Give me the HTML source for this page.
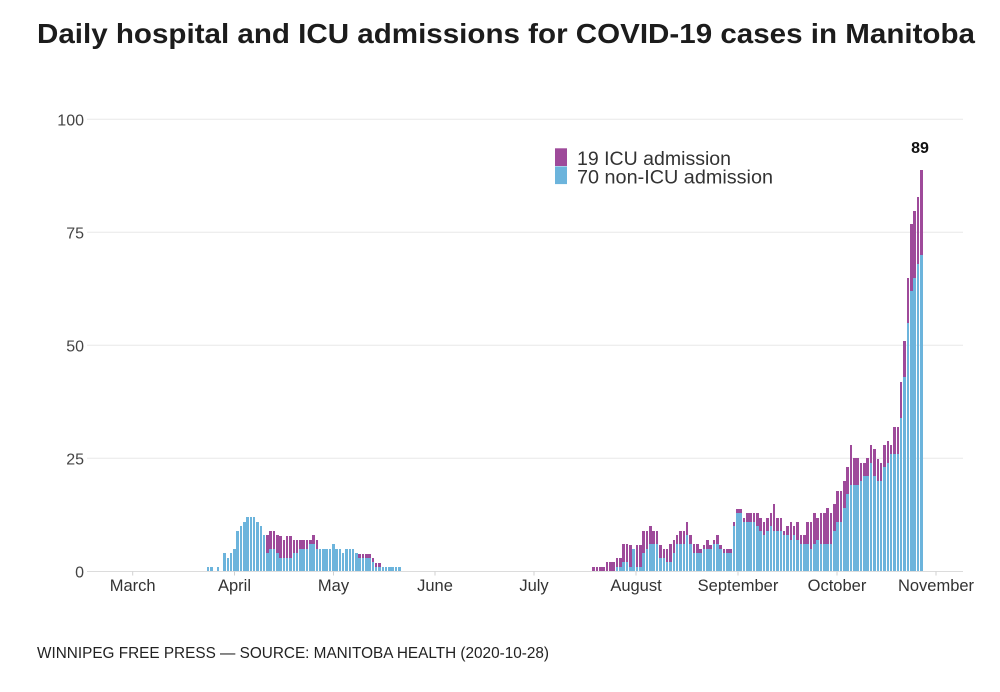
<!DOCTYPE html>
<html>
<head>
<meta charset="utf-8">
<style>
  html, body { margin:0; padding:0; background:#fff; }
  #wrap { position:relative; width:1000px; height:692px; overflow:hidden; background:#fff; }
  svg { position:absolute; left:0; top:0; }
  .grp { position:absolute; top:0; height:571.3px; display:flex; align-items:flex-end; }
  .grp i { --b:0; --p:0; display:block; flex:none; background:#6cb4dc;
           height:calc(var(--b) * 4.52px);
           border-top:calc(var(--p) * 4.52px) solid #9e4a9a; }
  #ga { left:206.8px; }
  #ga i { width:2.5px; margin-right:0.8px; }
  #gb { left:592.3px; }
  #gb i { width:2.55px; margin-right:0.8px; }
</style>
</head>
<body>
<div id="wrap">
<svg width="1000" height="692" viewBox="0 0 1000 692" xmlns="http://www.w3.org/2000/svg">
  <text x="37" y="43" font-family="Liberation Sans, sans-serif" font-size="28" font-weight="bold" fill="#1c1c1c" textLength="938" lengthAdjust="spacingAndGlyphs">Daily hospital and ICU admissions for COVID-19 cases in Manitoba</text>

  <g stroke="#e8e8e8" stroke-width="1">
    <line x1="87" y1="119.3" x2="963" y2="119.3"/>
    <line x1="87" y1="232.3" x2="963" y2="232.3"/>
    <line x1="87" y1="345.3" x2="963" y2="345.3"/>
    <line x1="87" y1="458.3" x2="963" y2="458.3"/>
  </g>
  <line x1="87" y1="571.5" x2="963" y2="571.5" stroke="#dcdcdc" stroke-width="1"/>

  <g font-family="Liberation Sans, sans-serif" font-size="16" fill="#444" text-anchor="end">
    <text x="84" y="125.3">100</text>
    <text x="84" y="238.3">75</text>
    <text x="84" y="351.3">50</text>
    <text x="84" y="464.3">25</text>
    <text x="84" y="577.3">0</text>
  </g>

  <g stroke="#d0d0d0" stroke-width="1">
    <line x1="132.7" y1="571.5" x2="132.7" y2="575.5"/>
    <line x1="234.5" y1="571.5" x2="234.5" y2="575.5"/>
    <line x1="333.5" y1="571.5" x2="333.5" y2="575.5"/>
    <line x1="435" y1="571.5" x2="435" y2="575.5"/>
    <line x1="534" y1="571.5" x2="534" y2="575.5"/>
    <line x1="636" y1="571.5" x2="636" y2="575.5"/>
    <line x1="738" y1="571.5" x2="738" y2="575.5"/>
    <line x1="837" y1="571.5" x2="837" y2="575.5"/>
    <line x1="936" y1="571.5" x2="936" y2="575.5"/>
  </g>
  <g font-family="Liberation Sans, sans-serif" font-size="16.5" fill="#333" text-anchor="middle">
    <text x="132.7" y="591">March</text>
    <text x="234.5" y="591">April</text>
    <text x="333.5" y="591">May</text>
    <text x="435" y="591">June</text>
    <text x="534" y="591">July</text>
    <text x="636" y="591">August</text>
    <text x="738" y="591">September</text>
    <text x="837" y="591">October</text>
    <text x="936" y="591">November</text>
  </g>

  <rect x="555" y="148.3" width="12" height="17.7" fill="#9e4a9a"/>
  <rect x="555" y="166.4" width="12" height="17.7" fill="#6cb4dc"/>
  <g font-family="Liberation Sans, sans-serif" font-size="19" fill="#333">
    <text x="577" y="165" textLength="154" lengthAdjust="spacingAndGlyphs">19 ICU admission</text>
    <text x="577" y="183.5" textLength="196" lengthAdjust="spacingAndGlyphs">70 non-ICU admission</text>
  </g>

  <text x="920" y="153" font-family="Liberation Sans, sans-serif" font-size="16" font-weight="bold" fill="#111" text-anchor="middle">89</text>

  <text x="37" y="658" font-family="Liberation Sans, sans-serif" font-size="16" fill="#222" textLength="512" lengthAdjust="spacingAndGlyphs">WINNIPEG FREE PRESS — SOURCE: MANITOBA HEALTH (2020-10-28)</text>
</svg>

<div class="grp" id="ga">
<i style="--b:1"></i><i style="--b:1"></i><i></i><i style="--b:1"></i><i></i>
<i style="--b:4"></i><i style="--b:3"></i><i style="--b:4"></i><i style="--b:5"></i><i style="--b:9"></i>
<i style="--b:10"></i><i style="--b:11"></i><i style="--b:12"></i><i style="--b:12"></i><i style="--b:12"></i>
<i style="--b:11"></i><i style="--b:10"></i><i style="--b:8"></i><i style="--b:4;--p:4"></i><i style="--b:5;--p:4"></i>
<i style="--b:5;--p:4"></i><i style="--b:4;--p:4"></i><i style="--b:3;--p:5"></i><i style="--b:3;--p:4"></i><i style="--b:3;--p:5"></i>
<i style="--b:3;--p:5"></i><i style="--b:4;--p:3"></i><i style="--b:4;--p:3"></i><i style="--b:5;--p:2"></i><i style="--b:5;--p:2"></i>
<i style="--b:5;--p:2"></i><i style="--b:6;--p:1"></i><i style="--b:6;--p:2"></i><i style="--b:5;--p:2"></i><i style="--b:5"></i>
<i style="--b:5"></i><i style="--b:5"></i><i style="--b:5"></i><i style="--b:6"></i><i style="--b:5"></i>
<i style="--b:5"></i><i style="--b:4"></i><i style="--b:5"></i><i style="--b:5"></i><i style="--b:5"></i>
<i style="--b:4"></i><i style="--b:3;--p:1"></i><i style="--b:3;--p:1"></i><i style="--b:3;--p:1"></i><i style="--b:3;--p:1"></i>
<i style="--b:2;--p:1"></i><i style="--b:1;--p:1"></i><i style="--b:1;--p:1"></i><i style="--b:1"></i><i style="--b:1"></i>
<i style="--b:1"></i><i style="--b:1"></i><i style="--b:1"></i><i style="--b:1"></i>
</div>

<div class="grp" id="gb">
<i style="--p:1"></i><i style="--p:1"></i><i style="--p:1"></i><i style="--p:1"></i><i style="--p:2"></i>
<i style="--p:2"></i><i style="--p:2"></i><i style="--b:1;--p:2"></i><i style="--b:1;--p:2"></i><i style="--b:2;--p:4"></i>
<i style="--b:2;--p:4"></i><i style="--b:1;--p:5"></i><i style="--b:5"></i><i style="--b:1;--p:5"></i><i style="--b:1;--p:5"></i>
<i style="--b:4;--p:5"></i><i style="--b:5;--p:4"></i><i style="--b:6;--p:4"></i><i style="--b:6;--p:3"></i><i style="--b:6;--p:3"></i>
<i style="--b:3;--p:3"></i><i style="--b:3;--p:2"></i><i style="--b:2;--p:3"></i><i style="--b:2;--p:4"></i><i style="--b:4;--p:3"></i>
<i style="--b:6;--p:2"></i><i style="--b:6;--p:3"></i><i style="--b:6;--p:3"></i><i style="--b:8;--p:3"></i><i style="--b:6;--p:2"></i>
<i style="--b:4;--p:2"></i><i style="--b:4;--p:2"></i><i style="--b:4;--p:1"></i><i style="--b:5;--p:1"></i><i style="--b:5;--p:2"></i>
<i style="--b:5;--p:1"></i><i style="--b:6;--p:1"></i><i style="--b:6;--p:2"></i><i style="--b:5;--p:1"></i><i style="--b:4;--p:1"></i>
<i style="--b:4;--p:1"></i><i style="--b:4;--p:1"></i><i style="--b:10;--p:1"></i><i style="--b:13;--p:1"></i><i style="--b:13;--p:1"></i>
<i style="--b:11;--p:1"></i><i style="--b:11;--p:2"></i><i style="--b:11;--p:2"></i><i style="--b:11;--p:2"></i><i style="--b:10;--p:3"></i>
<i style="--b:9;--p:3"></i><i style="--b:8;--p:3"></i><i style="--b:9;--p:3"></i><i style="--b:10;--p:3"></i><i style="--b:9;--p:6"></i>
<i style="--b:9;--p:3"></i><i style="--b:9;--p:3"></i><i style="--b:8;--p:1"></i><i style="--b:8;--p:2"></i><i style="--b:7;--p:4"></i>
<i style="--b:8;--p:2"></i><i style="--b:7;--p:4"></i><i style="--b:6;--p:2"></i><i style="--b:6;--p:2"></i><i style="--b:6;--p:5"></i>
<i style="--b:5;--p:6"></i><i style="--b:6;--p:7"></i><i style="--b:7;--p:5"></i><i style="--b:6;--p:7"></i><i style="--b:6;--p:7"></i>
<i style="--b:6;--p:8"></i><i style="--b:6;--p:7"></i><i style="--b:9;--p:6"></i><i style="--b:11;--p:7"></i><i style="--b:11;--p:7"></i>
<i style="--b:14;--p:6"></i><i style="--b:17;--p:6"></i><i style="--b:19;--p:9"></i><i style="--b:19;--p:6"></i><i style="--b:19;--p:6"></i>
<i style="--b:20;--p:4"></i><i style="--b:21;--p:3"></i><i style="--b:21;--p:4"></i><i style="--b:24;--p:4"></i><i style="--b:21;--p:6"></i>
<i style="--b:20;--p:5"></i><i style="--b:20;--p:4"></i><i style="--b:23;--p:5"></i><i style="--b:24;--p:5"></i><i style="--b:26;--p:2"></i>
<i style="--b:26;--p:6"></i><i style="--b:26;--p:6"></i><i style="--b:34;--p:8"></i><i style="--b:43;--p:8"></i><i style="--b:55;--p:10"></i>
<i style="--b:62;--p:15"></i><i style="--b:65;--p:15"></i><i style="--b:68;--p:15"></i><i style="--b:70;--p:19"></i>
</div>
</div>
</body>
</html>
